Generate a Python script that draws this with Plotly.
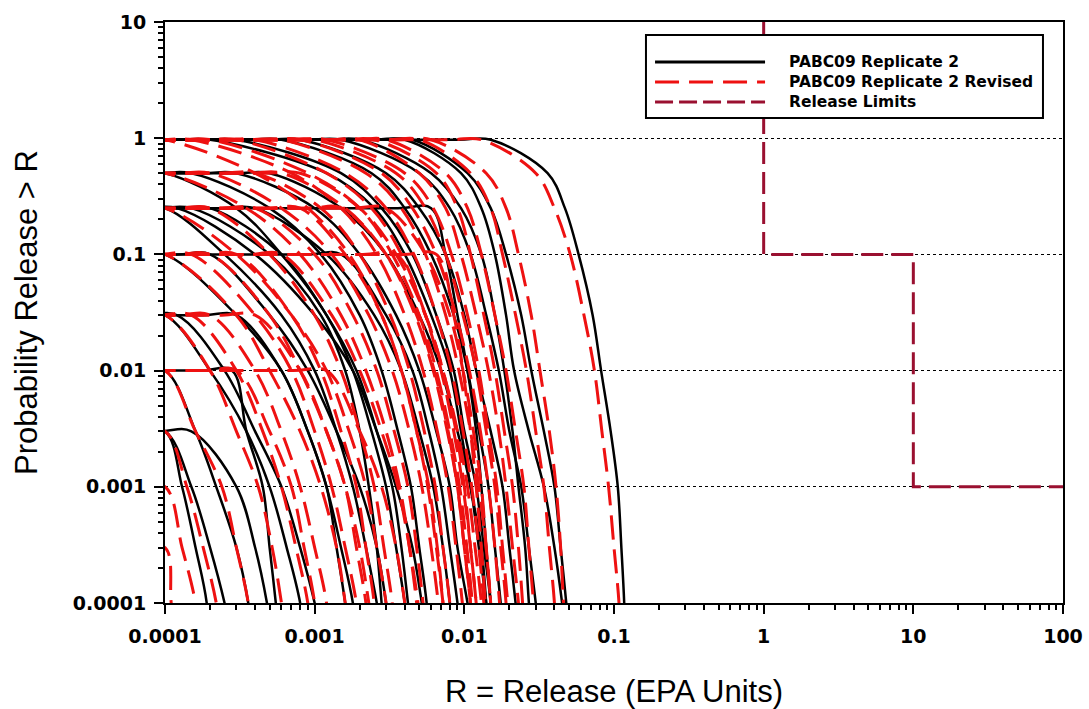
import plotly.graph_objects as go

# Exceedance probability levels shared by every CCDF curve
P_LEVELS = [0.97, 0.5, 0.25, 0.1, 0.03, 0.01, 0.003, 0.001, 0.0003, 0.0001, 0.00003]

# Release R (EPA units) at each probability level; None = above the curve's plateau
ORIGINAL_R = [
    [0.015, 0.036, 0.047, 0.058, 0.072, 0.082, 0.095, 0.106, 0.112, 0.117, 0.12],
    [0.004, 0.0095, 0.013, 0.016, 0.019, 0.0215, 0.027, 0.034, 0.040, 0.045, 0.05],
    [0.0045, 0.0105, 0.015, 0.019, 0.024, 0.028, 0.034, 0.040, 0.044, 0.048, 0.052],
    [0.0015, 0.005, 0.008, 0.011, 0.014, 0.017, 0.020, 0.024, 0.027, 0.030, 0.033],
    [0.0008, 0.003, 0.005, 0.0075, 0.010, 0.012, 0.015, 0.018, 0.020, 0.022, 0.024],
    [0.0002, 0.0012, 0.0025, 0.004, 0.006, 0.008, 0.0095, 0.011, 0.013, 0.014, 0.015],
    [None, 0.0003, 0.001, 0.002, 0.0035, 0.005, 0.0065, 0.008, 0.009, 0.0105, 0.012],
    [None, None, 0.006, 0.0075, 0.009, 0.0105, 0.012, 0.013, 0.014, 0.015, 0.016],
    [None, None, 0.00012, 0.0004, 0.001, 0.0018, 0.0026, 0.0035, 0.0045, 0.0052, 0.006],
    [None, None, 0.0001, 0.00025, 0.0006, 0.001, 0.0014, 0.0018, 0.0022, 0.0026, 0.003],
    [None, None, None, 0.0015, 0.003, 0.0045, 0.0058, 0.007, 0.008, 0.009, 0.010],
    [None, None, None, 0.0001, 0.0003, 0.0006, 0.0009, 0.0012, 0.0015, 0.0018, 0.002],
    [None, None, None, None, 0.00012, 0.00025, 0.0004, 0.0006, 0.0008, 0.001, 0.0012],
    [None, None, None, None, None, 0.00028, 0.00035, 0.00045, 0.0005, 0.00055, 0.0006],
    [None, None, None, None, None, None, 0.0001, 0.00015, 0.0002, 0.00025, 0.0003],
    [None, None, None, None, None, 0.0001, 0.00016, 0.00022, 0.0003, 0.00036, 0.0004],
    [None, 0.0001, 0.0003, 0.0006, 0.0012, 0.0018, 0.0024, 0.003, 0.0035, 0.004, 0.0045],
    [0.0003, 0.0015, 0.0028, 0.0045, 0.0065, 0.0085, 0.010, 0.012, 0.0135, 0.015, 0.016],
    [None, None, 0.0002, 0.0006, 0.0012, 0.0019, 0.0026, 0.0033, 0.0038, 0.0042, 0.0046],
    [None, None, None, 0.0002, 0.0005, 0.0009, 0.0014, 0.002, 0.0026, 0.003, 0.0034],
    [None, None, None, None, 0.0001, 0.0002, 0.00035, 0.0005, 0.00065, 0.0008, 0.0009],
    [0.002, 0.006, 0.0095, 0.013, 0.016, 0.0185, 0.021, 0.023, 0.0255, 0.027, 0.029],
    [None, 0.0005, 0.0015, 0.003, 0.005, 0.007, 0.009, 0.011, 0.0125, 0.014, 0.015],
    [None, None, None, None, None, None, 0.0001, 0.00013, 0.00016, 0.00019, 0.0002],
    [None, None, 0.00015, 0.0005, 0.0011, 0.0016, 0.002, 0.0023, 0.0026, 0.0028, 0.003],
    [None, None, None, None, 0.0003, 0.0006, 0.0009, 0.0012, 0.0014, 0.0016, 0.0018],
    [None, 0.00015, 0.0005, 0.0011, 0.002, 0.0028, 0.0036, 0.0044, 0.005, 0.0056, 0.006],
    [0.0006, 0.0024, 0.004, 0.006, 0.0085, 0.0105, 0.0125, 0.0145, 0.016, 0.0175, 0.019],
    [None, None, None, None, None, None, 0.00015, 0.0003, 0.0004, 0.00048, 0.00055],
    [None, None, 0.0004, 0.0012, 0.0025, 0.0038, 0.005, 0.0062, 0.0072, 0.008, 0.0088],
]

REVISED_R = [
    [0.013, 0.030, 0.040, 0.051, 0.063, 0.074, 0.083, 0.092, 0.100, 0.108, 0.112],
    [0.006, 0.014, 0.019, 0.023, 0.028, 0.032, 0.037, 0.041, 0.044, 0.046, 0.049],
    [0.005, 0.011, 0.015, 0.018, 0.022, 0.026, 0.030, 0.034, 0.037, 0.040, 0.042],
    [0.003, 0.0075, 0.0105, 0.013, 0.016, 0.019, 0.022, 0.025, 0.027, 0.029, 0.031],
    [0.002, 0.005, 0.0075, 0.0095, 0.012, 0.0145, 0.017, 0.019, 0.021, 0.023, 0.025],
    [0.001, 0.0035, 0.0055, 0.0075, 0.0098, 0.012, 0.014, 0.016, 0.0175, 0.019, 0.020],
    [0.0006, 0.0022, 0.0038, 0.0055, 0.0075, 0.0092, 0.011, 0.0125, 0.014, 0.015, 0.016],
    [0.0003, 0.0012, 0.0024, 0.0038, 0.0055, 0.007, 0.0085, 0.0098, 0.011, 0.012, 0.013],
    [0.00015, 0.0007, 0.0015, 0.0026, 0.004, 0.0053, 0.0066, 0.0078, 0.0088, 0.0097, 0.0105],
    [0.0001, 0.0004, 0.0009, 0.0017, 0.0028, 0.0038, 0.0048, 0.0057, 0.0065, 0.0072, 0.0078],
    [None, 0.0008, 0.002, 0.0035, 0.0055, 0.0072, 0.009, 0.0105, 0.0118, 0.013, 0.014],
    [None, 0.0002, 0.0006, 0.0013, 0.0023, 0.0033, 0.0043, 0.0052, 0.006, 0.0067, 0.0073],
    [None, None, 0.0008, 0.0016, 0.0028, 0.0038, 0.0048, 0.0058, 0.0066, 0.0072, 0.0078],
    [None, None, 0.003, 0.0055, 0.008, 0.0098, 0.0115, 0.013, 0.014, 0.015, 0.016],
    [None, None, None, 0.0065, 0.0085, 0.0098, 0.011, 0.012, 0.013, 0.0138, 0.0145],
    [None, None, 0.0001, 0.0003, 0.0007, 0.0012, 0.0017, 0.0022, 0.0026, 0.003, 0.0033],
    [None, None, 0.0002, 0.0005, 0.001, 0.0015, 0.002, 0.0025, 0.0029, 0.0033, 0.0036],
    [None, None, None, 0.0001, 0.0003, 0.0005, 0.0008, 0.0011, 0.0014, 0.0016, 0.0018],
    [None, None, None, 0.0003, 0.0007, 0.0011, 0.0015, 0.0019, 0.0022, 0.0025, 0.0027],
    [None, None, None, None, 0.0001, 0.0002, 0.0003, 0.00042, 0.00052, 0.0006, 0.00068],
    [None, None, None, None, 0.0002, 0.0004, 0.0006, 0.0008, 0.001, 0.0012, 0.0013],
    [None, None, None, None, None, 0.0001, 0.00016, 0.00024, 0.0003, 0.00036, 0.0004],
    [None, None, None, None, None, None, 0.0001, 0.00014, 0.00018, 0.00022, 0.00025],
    [None, None, None, None, None, None, None, None, 0.0001, 0.00011, 0.00012],
    [None, None, None, 0.0006, 0.0013, 0.002, 0.0028, 0.0036, 0.0043, 0.0049, 0.0054],
    [None, 0.0004, 0.0011, 0.002, 0.0032, 0.0043, 0.0054, 0.0064, 0.0072, 0.008, 0.0086],
    [0.0025, 0.0065, 0.009, 0.011, 0.0135, 0.016, 0.0185, 0.021, 0.023, 0.0245, 0.026],
    [0.0012, 0.004, 0.0062, 0.0082, 0.0105, 0.0125, 0.0145, 0.0165, 0.018, 0.0195, 0.021],
    [None, None, 0.0004, 0.001, 0.0018, 0.0026, 0.0034, 0.0042, 0.0048, 0.0053, 0.0058],
    [None, None, None, 0.0002, 0.0005, 0.0008, 0.0012, 0.0016, 0.0019, 0.0022, 0.0024],
    [None, None, None, None, 0.00015, 0.0003, 0.00045, 0.0006, 0.00075, 0.0009, 0.001],
    [None, 0.0001, 0.00035, 0.0008, 0.0015, 0.0022, 0.003, 0.0037, 0.0043, 0.0048, 0.0052],
    [0.0004, 0.0016, 0.003, 0.0046, 0.0065, 0.0082, 0.0098, 0.0112, 0.0125, 0.0135, 0.0145],
    [None, None, None, 0.0035, 0.0055, 0.0072, 0.0088, 0.010, 0.011, 0.012, 0.0128],
    [None, None, None, None, None, 0.0012, 0.002, 0.0028, 0.0035, 0.004, 0.0045],
    [None, None, None, None, None, None, None, 0.0001, 0.00013, 0.00016, 0.00018],
    [None, None, None, 0.00015, 0.0004, 0.0007, 0.001, 0.0013, 0.0016, 0.0019, 0.0021],
    [None, 0.0006, 0.0016, 0.003, 0.0047, 0.0062, 0.0077, 0.009, 0.010, 0.011, 0.012],
    [0.0002, 0.0009, 0.002, 0.0033, 0.005, 0.0065, 0.008, 0.0093, 0.0104, 0.0113, 0.012],
    [None, None, None, None, 0.0004, 0.0008, 0.0012, 0.0016, 0.002, 0.0023, 0.0026],
    [None, None, 0.0015, 0.003, 0.0048, 0.0063, 0.0078, 0.009, 0.010, 0.011, 0.0118],
    [None, None, None, None, None, 0.0003, 0.0005, 0.0007, 0.00085, 0.001, 0.0011],
    [0.0008, 0.0028, 0.0045, 0.0065, 0.0088, 0.0108, 0.0128, 0.0145, 0.016, 0.0172, 0.0185],
]

# EPA release limits (step function)
LIMIT_R = [1, 1, 10, 10, 100]
LIMIT_P = [10, 0.1, 0.1, 0.001, 0.001]

X_TICKS = [0.0001, 0.001, 0.01, 0.1, 1, 10, 100]
X_TICK_TEXT = ["0.0001", "0.001", "0.01", "0.1", "1", "10", "100"]
Y_TICKS = [0.0001, 0.001, 0.01, 0.1, 1, 10]
Y_TICK_TEXT = ["0.0001", "0.001", "0.01", "0.1", "1", "10"]

RED = "#EE1111"
LIMIT_COLOR = "#9A1030"
FONT = "Liberation Sans, Arial, sans-serif"
BOLD_FONT = "DejaVu Sans, Verdana, sans-serif"
SMOOTH = 1.0


def curve_xy(row):
    pts = [(r, p) for r, p in zip(row, P_LEVELS) if r is not None]
    knee, top = pts[0]
    # flat plateau entering from the left of the axis, held up to just before the knee
    xs = [1e-5, knee * 0.6] + [r for r, _ in pts]
    ys = [top, top] + [p for _, p in pts]
    return xs, ys


fig = go.Figure()

for row in ORIGINAL_R:
    xs, ys = curve_xy(row)
    fig.add_trace(go.Scatter(x=xs, y=ys, mode="lines", showlegend=False,
                             line=dict(color="black", width=2.5, shape="spline", smoothing=SMOOTH)))

for row in REVISED_R:
    xs, ys = curve_xy(row)
    fig.add_trace(go.Scatter(x=xs, y=ys, mode="lines", showlegend=False,
                             line=dict(color=RED, width=3, dash="24px,10px",
                                       shape="spline", smoothing=SMOOTH)))

fig.add_trace(go.Scatter(x=LIMIT_R, y=LIMIT_P, mode="lines", showlegend=False,
                         line=dict(color=LIMIT_COLOR, width=3, dash="22px,8px")))

minor_vals = [m * 10 ** e for e in range(-4, 2) for m in range(2, 10)]
minor_y = [m * 10 ** e for e in range(-4, 1) for m in range(2, 10)]

fig.update_xaxes(type="log", range=[-4, 2], tickmode="array", tickvals=X_TICKS,
                 ticktext=X_TICK_TEXT, ticks="outside", ticklen=9, tickwidth=1.5,
                 tickcolor="black", showline=True, linecolor="black", linewidth=2,
                 mirror=True, showgrid=False, zeroline=False, automargin=False,
                 ticklabelstandoff=6,
                 tickfont=dict(family=BOLD_FONT, size=19, color="black", weight="bold"),
                 minor=dict(tickvals=minor_vals, ticks="outside", ticklen=5,
                            tickcolor="black", showgrid=False),
                 title=dict(text="R = Release (EPA Units)", standoff=36,
                            font=dict(family=FONT, size=31, color="black")))

fig.update_yaxes(type="log", range=[-4, 1], tickmode="array", tickvals=Y_TICKS,
                 ticktext=Y_TICK_TEXT, ticks="outside", ticklen=9, tickwidth=1.5,
                 tickcolor="black", showline=True, linecolor="black", linewidth=2,
                 mirror=True, showgrid=True, gridcolor="black", gridwidth=1,
                 griddash="dot", zeroline=False, automargin=False,
                 ticklabelstandoff=4,
                 tickfont=dict(family=BOLD_FONT, size=19, color="black", weight="bold"),
                 minor=dict(tickvals=minor_y, ticks="outside", ticklen=5,
                            tickcolor="black", showgrid=False),
                 title=dict(text="Probability Release > R", standoff=26,
                            font=dict(family=FONT, size=31, color="black")))

# Legend drawn as a framed box with line samples
shapes = [
    dict(type="rect", xref="paper", yref="paper", x0=0.5356, x1=0.9777, y0=0.8348, y1=0.9776,
         line=dict(color="black", width=2), fillcolor="white", layer="above"),
    dict(type="line", xref="paper", yref="paper", x0=0.5457, x1=0.6682, y0=0.9312, y1=0.9312,
         line=dict(color="black", width=3), layer="above"),
    dict(type="line", xref="paper", yref="paper", x0=0.5457, x1=0.6682, y0=0.8967, y1=0.8967,
         line=dict(color=RED, width=3, dash="24px,10px"), layer="above"),
    dict(type="line", xref="paper", yref="paper", x0=0.5457, x1=0.6682, y0=0.8623, y1=0.8623,
         line=dict(color=LIMIT_COLOR, width=3, dash="18px,6px"), layer="above"),
]
labels = ["PABC09 Replicate 2", "PABC09 Replicate 2 Revised", "Release Limits"]
annotations = [
    dict(text=t, xref="paper", yref="paper", x=0.6927, y=yy, xanchor="left", yanchor="middle",
         showarrow=False, font=dict(family=BOLD_FONT, size=15.5, color="black", weight="bold"))
    for t, yy in zip(labels, [0.9312, 0.8967, 0.8623])
]

fig.update_layout(width=1089, height=709, margin=dict(l=165, r=26, t=22, b=106),
                  paper_bgcolor="white", plot_bgcolor="white", showlegend=False,
                  shapes=shapes, annotations=annotations)

fig.write_html("out.html")
